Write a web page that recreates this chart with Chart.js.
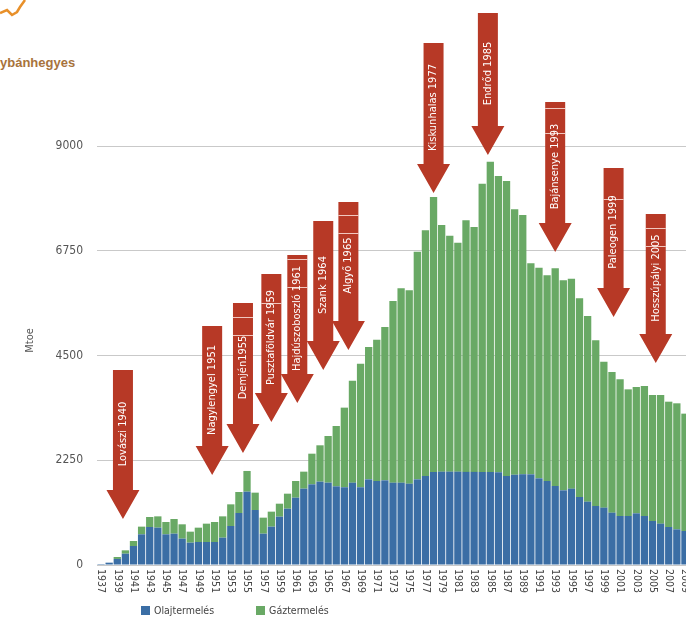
<!DOCTYPE html>
<html lang="hu">
<head>
<meta charset="UTF-8">
<title>Olaj- és gáztermelés</title>
<script src="https://cdn.jsdelivr.net/npm/chart.js"></script>
<style>
  html, body { margin: 0; padding: 0; background: #fff; }
  body { width: 686px; height: 620px; position: relative; overflow: hidden; }
  .logo { position: absolute; left: 0; top: 0; }
  .field-title {
    position: absolute; left: 0; top: 55px;
    font: bold 13px 'Liberation Sans', Arial, sans-serif; color: #a8733c;
  }
  .chart-box { position: absolute; left: 0; top: 0; width: 689px; height: 620px; }
  #legend {
    position: absolute; left: 141px; top: 604px; display: flex; gap: 42px;
    font: 10.5px 'Liberation Sans Narrow', 'DejaVu Sans Condensed', sans-serif; color: #444;
  }
  #legend span { display: flex; align-items: center; }
  #legend i { display: inline-block; width: 9px; height: 9px; margin-right: 4px; }
</style>
</head>
<body>
  <svg class="logo" width="30" height="20">
    <polyline points="0,13 7,10 12,15 17,12 20,7 25,0" fill="none" stroke="#e8902a" stroke-width="2.5"/>
  </svg>
  <div class="field-title">ybánhegyes</div>

  <div class="chart-box">
    <canvas id="prodChart" width="689" height="620"></canvas>
  </div>
  <div id="legend"></div>

<script>
  // Yearly production, Mtoe
  const years = [
    '1937','1938','1939','1940','1941','1942','1943','1944','1945','1946',
    '1947','1948','1949','1950','1951','1952','1953','1954','1955','1956',
    '1957','1958','1959','1960','1961','1962','1963','1964','1965','1966',
    '1967','1968','1969','1970','1971','1972','1973','1974','1975','1976',
    '1977','1978','1979','1980','1981','1982','1983','1984','1985','1986',
    '1987','1988','1989','1990','1991','1992','1993','1994','1995','1996',
    '1997','1998','1999','2000','2001','2002','2003','2004','2005','2006',
    '2007','2008','2009'
  ];
  const oil = [
    20, 50, 130, 243, 408, 659, 816, 802, 659, 673,
    566, 480, 494, 494, 494, 587, 838, 1117, 1575, 1181,
    673, 823, 1038, 1210, 1446, 1640, 1733, 1790, 1769, 1690,
    1670, 1768, 1670, 1840, 1804, 1819, 1768, 1768, 1747, 1840,
    1912, 1998, 2005, 2005, 2005, 2000, 2000, 1998, 1998, 1990,
    1912, 1940, 1950, 1948, 1862, 1804, 1697, 1604, 1640, 1461,
    1360, 1267, 1232, 1124, 1053, 1053, 1110, 1053, 945, 888,
    816, 766, 730
  ];
  const gas = [
    0, 0, 42, 72, 108, 165, 215, 243, 265, 315,
    308, 236, 308, 394, 430, 458, 465, 451, 445, 373,
    344, 323, 279, 322, 358, 365, 658, 781, 1002, 1296,
    1710, 2192, 2655, 2843, 3036, 3293, 3903, 4175, 4153, 4890,
    5277, 5907, 5298, 5069, 4919, 5403, 5260, 6193, 6666, 6366,
    6336, 5700, 5568, 4532, 4525, 4418, 4675, 4510, 4510, 4267,
    3989, 3559, 3136, 3022, 2935, 2720, 2713, 2792, 2707, 2764,
    2692, 2707, 2521
  ];
  const yTicks = [0, 2250, 4500, 6750, 9000];

  // Field discoveries: label, year position on the axis, arrow top and tip (Mtoe)
  const fieldNames = [
    'Lovászi 1940', 'Nagylengyel 1951', 'Demjén1955', 'Pusztaföldvár 1959',
    'Hajdúszoboszló 1961', 'Szank 1964', 'Algyő 1965', 'Kiskunhalas 1977',
    'Endrőd 1985', 'Bajánsenye 1993', 'Paleogen 1999', 'Hosszúpályi 2005'
  ];
  const fieldPos = [1939.7, 1950.7, 1954.5, 1958.0, 1961.2, 1964.4, 1967.5, 1978.0, 1984.7, 1993.0, 2000.2, 2005.4];
  const fieldTop = [4189, 5134, 5628, 6251, 6659, 7389, 7797, 11213, 11857, 9945, 8528, 7540];
  const fieldTip = [988, 1933, 2406, 3072, 3480, 4189, 4618, 7991, 8807, 6723, 5327, 4339];

  const narrow = "'Liberation Sans Narrow', 'DejaVu Sans Condensed', sans-serif";
  const ARROW = '#b73926';
  // thin light seams across some arrow shafts, px below the shaft top
  const SEAMS = [[], [], [14, 32], [29], [4, 32], [], [13, 31], [], [], [6, 31], [31], [14, 32]];

  function drawArrow(ctx, cx, topY, tipY, text, seams) {
    const headH = 29, headW = 16.5, shaftW = 10;
    ctx.fillStyle = ARROW;
    ctx.beginPath();
    ctx.moveTo(cx - shaftW, topY);
    ctx.lineTo(cx + shaftW, topY);
    ctx.lineTo(cx + shaftW, tipY - headH);
    ctx.lineTo(cx + headW, tipY - headH);
    ctx.lineTo(cx, tipY);
    ctx.lineTo(cx - headW, tipY - headH);
    ctx.lineTo(cx - shaftW, tipY - headH);
    ctx.closePath();
    ctx.fill();

    ctx.strokeStyle = 'rgba(255,235,230,0.8)';
    ctx.lineWidth = 1;
    seams.forEach(d => {
      const y = Math.round(topY + d) + 0.5;
      ctx.beginPath();
      ctx.moveTo(cx - shaftW, y);
      ctx.lineTo(cx + shaftW, y);
      ctx.stroke();
    });

    ctx.save();
    ctx.translate(cx, (topY + tipY - headH) / 2 + 4);
    ctx.rotate(-Math.PI / 2);
    ctx.fillStyle = '#fff';
    ctx.font = '11px ' + narrow;
    ctx.textAlign = 'center';
    ctx.textBaseline = 'middle';
    ctx.fillText(text, 0, 0);
    ctx.restore();
  }

  // year labels (every second year, reading downwards), axis title and field arrows
  const extras = {
    id: 'extras',
    afterDatasetsDraw(chart) {
      const ctx = chart.ctx;
      const xs = chart.scales.x, ys = chart.scales.y;
      const base = ys.getPixelForValue(0);

      ctx.save();
      ctx.fillStyle = '#444';
      ctx.font = '10.5px ' + narrow;
      ctx.textAlign = 'left';
      ctx.textBaseline = 'middle';
      years.forEach((yr, i) => {
        if (i % 2) return;
        ctx.save();
        ctx.translate(xs.getPixelForValue(i), base + 4);
        ctx.rotate(Math.PI / 2);
        ctx.fillText(yr, 0, 0);
        ctx.restore();
      });

      ctx.save();
      ctx.translate(30, (ys.top + ys.bottom) / 2 - 15);
      ctx.rotate(-Math.PI / 2);
      ctx.fillStyle = '#555';
      ctx.font = '11px ' + narrow;
      ctx.textAlign = 'center';
      ctx.fillText('Mtoe', 0, 0);
      ctx.restore();

      fieldNames.forEach((name, i) => {
        const cx = xs.getPixelForValue(fieldPos[i] - 1937);
        drawArrow(ctx, cx, ys.getPixelForValue(fieldTop[i]), ys.getPixelForValue(fieldTip[i]), name, SEAMS[i]);
      });
      ctx.restore();
    }
  };

  const ctx = document.getElementById('prodChart').getContext('2d');
  const chart = new Chart(ctx, {
    type: 'bar',
    data: {
      labels: years,
      datasets: [
        { label: 'Olajtermelés', data: oil, backgroundColor: '#3b6ea5' },
        { label: 'Gáztermelés', data: gas, backgroundColor: '#69a965' }
      ]
    },
    options: {
      responsive: false,
      animation: false,
      layout: { padding: { top: 146, left: 0, right: 0, bottom: 0 } },
      datasets: { bar: { barPercentage: 0.9, categoryPercentage: 1.0 } },
      plugins: { legend: { display: false }, tooltip: { enabled: false } },
      scales: {
        x: {
          stacked: true,
          grid: { display: false },
          border: { display: false },
          ticks: { display: false },
          afterFit: s => { s.height = 55; }
        },
        y: {
          stacked: true,
          min: 0,
          max: 9000,
          afterBuildTicks: s => { s.ticks = yTicks.map(v => ({ value: v })); },
          afterFit: s => { s.width = 97; },
          grid: { color: '#c9c9c9', drawTicks: false },
          border: { display: false },
          ticks: {
            padding: 14,
            color: '#555',
            font: { family: narrow, size: 12 },
            callback: v => String(v)
          }
        }
      }
    },
    plugins: [extras]
  });

  // legend from the chart's own datasets
  const legend = document.getElementById('legend');
  chart.data.datasets.forEach(ds => {
    const item = document.createElement('span');
    const box = document.createElement('i');
    box.style.background = ds.backgroundColor;
    item.appendChild(box);
    item.appendChild(document.createTextNode(ds.label));
    legend.appendChild(item);
  });
</script>
</body>
</html>
